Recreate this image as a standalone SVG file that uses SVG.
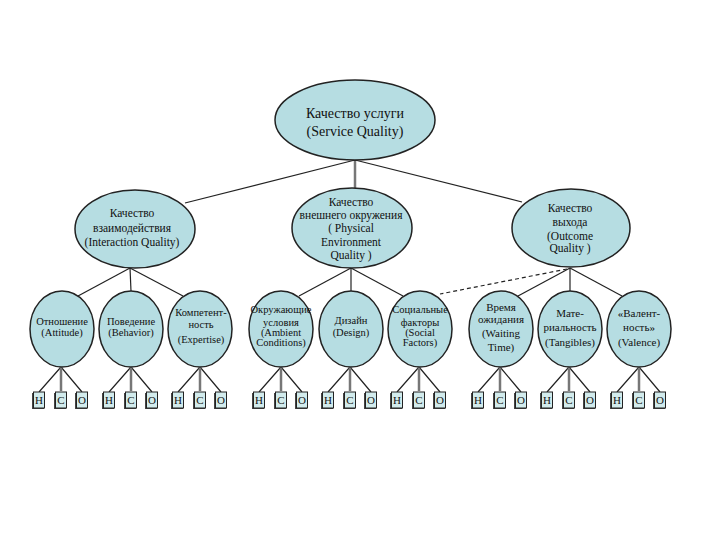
<svg xmlns="http://www.w3.org/2000/svg" width="720" height="540" viewBox="0 0 720 540">
<style>
.n{fill:#b6dde2;stroke:#222;stroke-width:1.5}
.b{fill:#d2ebec;stroke:#222;stroke-width:1}
.sh{fill:#444}
.l{stroke:#222;stroke-width:1.2;fill:none}
.g{stroke:#777;stroke-width:2.5;fill:none}
.d{stroke:#222;stroke-width:1.2;fill:none;stroke-dasharray:4 3}
text{font-family:"Liberation Serif","Times New Roman",serif;fill:#111;text-anchor:middle}
.t1{font-size:14px}
.t2{font-size:11.5px}
.t3{font-size:10.5px}
.t4{font-size:11px}
</style>
<rect width="720" height="540" fill="#fff"/>
<g id="connectors">
<line class="g" x1="355" y1="160" x2="355" y2="190"/>
<line class="l" x1="355" y1="160" x2="185" y2="203"/>
<line class="l" x1="355" y1="160" x2="522" y2="202"/>
<line class="l" x1="130" y1="268" x2="78" y2="296"/>
<line class="l" x1="130" y1="268" x2="131" y2="291"/>
<line class="l" x1="130" y1="268" x2="183" y2="296"/>
<line class="l" x1="351" y1="268" x2="299" y2="296"/>
<line class="l" x1="351" y1="268" x2="351" y2="291"/>
<line class="l" x1="351" y1="268" x2="403" y2="296"/>
<line class="d" x1="567" y1="269" x2="440" y2="294"/>
<line class="l" x1="570" y1="268" x2="518" y2="296"/>
<line class="l" x1="570" y1="268" x2="570" y2="291"/>
<line class="l" x1="570" y1="268" x2="622" y2="296"/>
<g id="leaf-lines">
<path class="l" d="M61,367L39,392M61,367L82,392M131,367L109,392M131,367L152,392M200,367L178,392M200,367L221,392M281,367L259,392M281,367L302,392M350,367L328,392M350,367L371,392M419,367L397,392M419,367L440,392M500,367L478,392M500,367L521,392M569,367L547,392M569,367L590,392M639,367L617,392M639,367L660,392"/>
<path class="g" d="M61,367V391M131,367V391M200,367V391M281,367V391M350,367V391M419,367V391M500,367V391M569,367V391M639,367V391" stroke-width="2"/>
</g>
</g>
<g id="root">
<ellipse class="n" cx="355" cy="120" rx="80" ry="40"/>
<text class="t1" x="355" y="118">Качество услуги</text>
<text class="t1" x="355" y="136">(Service Quality)</text>
</g>
<g id="interaction">
<ellipse class="n" cx="135" cy="229" rx="60" ry="39"/>
<text class="t2" x="132" y="217">Качество</text>
<text class="t2" x="132" y="232">взаимодействия</text>
<text class="t2" x="132" y="246">(Interaction Quality)</text>
</g>
<g id="physical">
<ellipse class="n" cx="352" cy="228" rx="60" ry="40"/>
<text class="t2" x="351" y="206">Качество</text>
<text class="t2" x="351" y="219">внешнего окружения</text>
<text class="t2" x="351" y="232">( Physical</text>
<text class="t2" x="351" y="246">Environment</text>
<text class="t2" x="351" y="259">Quality )</text>
</g>
<g id="outcome">
<ellipse class="n" cx="571" cy="228" rx="59" ry="39"/>
<text class="t2" x="570" y="212">Качество</text>
<text class="t2" x="570" y="226">выхода</text>
<text class="t2" x="570" y="240">(Outcome</text>
<text class="t2" x="570" y="252">Quality )</text>
</g>
<g id="attitude">
<ellipse class="n" cx="62" cy="329" rx="32" ry="38"/>
<text class="t3" x="62" y="325">Отношение</text>
<text class="t3" x="62" y="336">(Attitude)</text>
</g>
<g id="behavior">
<ellipse class="n" cx="131" cy="329" rx="32" ry="38"/>
<text class="t3" x="131" y="325">Поведение</text>
<text class="t3" x="131" y="336">(Behavior)</text>
</g>
<g id="expertise">
<ellipse class="n" cx="200" cy="329" rx="32" ry="38"/>
<text class="t3" x="201" y="316">Компетент-</text>
<text class="t3" x="201" y="328">ность</text>
<text class="t3" x="201" y="343">(Expertise)</text>
</g>
<g id="ambient">
<ellipse class="n" cx="281" cy="329" rx="32" ry="38"/>
<text class="t3" x="281" y="313">Окружающие</text>
<text class="t3" x="281" y="326">условия</text>
<text class="t3" x="281" y="336">(Ambient</text>
<text class="t3" x="281" y="346">Conditions)</text>
</g>
<g id="design">
<ellipse class="n" cx="351" cy="329" rx="32" ry="38"/>
<text class="t3" x="351" y="324">Дизайн</text>
<text class="t3" x="351" y="336">(Design)</text>
</g>
<g id="social">
<ellipse class="n" cx="420" cy="329" rx="32" ry="38"/>
<text class="t3" x="420" y="313">Социальные</text>
<text class="t3" x="420" y="326">факторы</text>
<text class="t3" x="420" y="336">(Social</text>
<text class="t3" x="420" y="346">Factors)</text>
</g>
<g id="waiting">
<ellipse class="n" cx="501" cy="329" rx="32" ry="38"/>
<text class="t4" x="501" y="311">Время</text>
<text class="t4" x="501" y="323">ожидания</text>
<text class="t4" x="501" y="337">(Waiting</text>
<text class="t4" x="501" y="351">Time)</text>
</g>
<g id="tangibles">
<ellipse class="n" cx="570" cy="329" rx="32" ry="38"/>
<text class="t4" x="570" y="317">Мате-</text>
<text class="t4" x="570" y="331">риальность</text>
<text class="t4" x="570" y="346">(Tangibles)</text>
</g>
<g id="valence">
<ellipse class="n" cx="639" cy="329" rx="32" ry="38"/>
<text class="t4" x="639" y="317">«Валент-</text>
<text class="t4" x="639" y="331">ность»</text>
<text class="t4" x="639" y="346">(Valence)</text>
</g>
<g id="boxes">
<g id="b1"><rect class="sh" x="32" y="393" width="12" height="16"/><rect class="b" x="33.5" y="392" width="11" height="16"/><text class="t4" x="39" y="404">Н</text>
<rect class="sh" x="54" y="393" width="12" height="16"/><rect class="b" x="55.5" y="392" width="11" height="16"/><text class="t4" x="61" y="404">С</text>
<rect class="sh" x="75" y="393" width="12" height="16"/><rect class="b" x="76.5" y="392" width="11" height="16"/><text class="t4" x="82" y="404">О</text></g>
<g id="b2"><rect class="sh" x="102" y="393" width="12" height="16"/><rect class="b" x="103.5" y="392" width="11" height="16"/><text class="t4" x="109" y="404">Н</text>
<rect class="sh" x="124" y="393" width="12" height="16"/><rect class="b" x="125.5" y="392" width="11" height="16"/><text class="t4" x="131" y="404">С</text>
<rect class="sh" x="145" y="393" width="12" height="16"/><rect class="b" x="146.5" y="392" width="11" height="16"/><text class="t4" x="152" y="404">О</text></g>
<g id="b3"><rect class="sh" x="171" y="393" width="12" height="16"/><rect class="b" x="172.5" y="392" width="11" height="16"/><text class="t4" x="178" y="404">Н</text>
<rect class="sh" x="193" y="393" width="12" height="16"/><rect class="b" x="194.5" y="392" width="11" height="16"/><text class="t4" x="200" y="404">С</text>
<rect class="sh" x="214" y="393" width="12" height="16"/><rect class="b" x="215.5" y="392" width="11" height="16"/><text class="t4" x="221" y="404">О</text></g>
<g id="b4"><rect class="sh" x="252" y="393" width="12" height="16"/><rect class="b" x="253.5" y="392" width="11" height="16"/><text class="t4" x="259" y="404">Н</text>
<rect class="sh" x="274" y="393" width="12" height="16"/><rect class="b" x="275.5" y="392" width="11" height="16"/><text class="t4" x="281" y="404">С</text>
<rect class="sh" x="295" y="393" width="12" height="16"/><rect class="b" x="296.5" y="392" width="11" height="16"/><text class="t4" x="302" y="404">О</text></g>
<g id="b5"><rect class="sh" x="321" y="393" width="12" height="16"/><rect class="b" x="322.5" y="392" width="11" height="16"/><text class="t4" x="328" y="404">Н</text>
<rect class="sh" x="343" y="393" width="12" height="16"/><rect class="b" x="344.5" y="392" width="11" height="16"/><text class="t4" x="350" y="404">С</text>
<rect class="sh" x="364" y="393" width="12" height="16"/><rect class="b" x="365.5" y="392" width="11" height="16"/><text class="t4" x="371" y="404">О</text></g>
<g id="b6"><rect class="sh" x="390" y="393" width="12" height="16"/><rect class="b" x="391.5" y="392" width="11" height="16"/><text class="t4" x="397" y="404">Н</text>
<rect class="sh" x="412" y="393" width="12" height="16"/><rect class="b" x="413.5" y="392" width="11" height="16"/><text class="t4" x="419" y="404">С</text>
<rect class="sh" x="433" y="393" width="12" height="16"/><rect class="b" x="434.5" y="392" width="11" height="16"/><text class="t4" x="440" y="404">О</text></g>
<g id="b7"><rect class="sh" x="471" y="393" width="12" height="16"/><rect class="b" x="472.5" y="392" width="11" height="16"/><text class="t4" x="478" y="404">Н</text>
<rect class="sh" x="493" y="393" width="12" height="16"/><rect class="b" x="494.5" y="392" width="11" height="16"/><text class="t4" x="500" y="404">С</text>
<rect class="sh" x="514" y="393" width="12" height="16"/><rect class="b" x="515.5" y="392" width="11" height="16"/><text class="t4" x="521" y="404">О</text></g>
<g id="b8"><rect class="sh" x="540" y="393" width="12" height="16"/><rect class="b" x="541.5" y="392" width="11" height="16"/><text class="t4" x="547" y="404">Н</text>
<rect class="sh" x="562" y="393" width="12" height="16"/><rect class="b" x="563.5" y="392" width="11" height="16"/><text class="t4" x="569" y="404">С</text>
<rect class="sh" x="583" y="393" width="12" height="16"/><rect class="b" x="584.5" y="392" width="11" height="16"/><text class="t4" x="590" y="404">О</text></g>
<g id="b9"><rect class="sh" x="610" y="393" width="12" height="16"/><rect class="b" x="611.5" y="392" width="11" height="16"/><text class="t4" x="617" y="404">Н</text>
<rect class="sh" x="632" y="393" width="12" height="16"/><rect class="b" x="633.5" y="392" width="11" height="16"/><text class="t4" x="639" y="404">С</text>
<rect class="sh" x="653" y="393" width="12" height="16"/><rect class="b" x="654.5" y="392" width="11" height="16"/><text class="t4" x="660" y="404">О</text></g>
</g>
</svg>
